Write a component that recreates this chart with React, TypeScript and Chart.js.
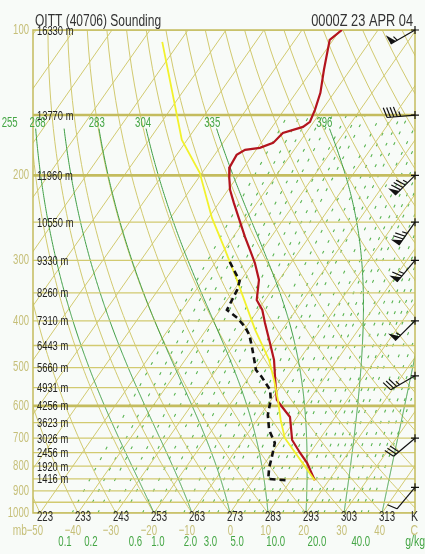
import React, { useEffect, useRef } from "react";
import { Chart, registerables } from "chart.js";

Chart.register(...registerables);

const titleLeft = "OITT (40706) Sounding";
const titleRight = "0000Z 23 APR 04";

// Temperature profile (hPa, °C)
const tempP = [100, 104.8, 120.9, 134.9, 146.3, 154.9, 158.7, 163.3, 171.3, 175.4, 177.1, 181.4, 192.0, 201.4, 214.3, 228.0, 247.3, 268.2, 285.3, 303.6, 329.2, 362.2, 379.8, 404.1, 444.6, 482.1, 530.4, 583.4, 603.2, 632.7, 706.0, 751.2, 787.9, 856];
const tempC = [-59.5, -60.9, -56.9, -53.6, -51.9, -51.0, -51.9, -56.1, -56.8, -59.4, -62.9, -64.2, -63.8, -62.1, -59.5, -56.1, -51.5, -46.9, -43.2, -39.5, -35.3, -32.2, -28.9, -25.8, -20.8, -16.6, -12.6, -8.5, -5.8, -1.9, 2.9, 7.4, 11.1, 16.3];

// Dewpoint profile (hPa, °C)
const dewP = [302.1, 330.8, 345.3, 379.8, 394.6, 411.9, 427.9, 453.1, 482.1, 505.7, 522.8, 556.2, 583.4, 626.7, 673.1, 716.2, 765.7, 806.9, 850.3, 856];
const dewC = [-46.3, -40.2, -39.2, -38.2, -34.0, -30.3, -27.7, -24.8, -21.8, -19.5, -16.7, -12.1, -10.1, -8.1, -5.0, -1.1, 0.7, 2.0, 3.8, 9.6];

// Parcel path (hPa, °C)
const parcelP = [856, 699.3, 641.8, 583.4, 530.4, 482.1, 417.8, 329.2, 281.3, 244.9, 197.6, 168.8, 105.8];
const parcelC = [16.3, 0.6, -3.8, -8.2, -12.9, -17.9, -27.1, -41.1, -50.6, -59.1, -70.6, -81.4, -104.6];

// Heights of levels
const heightP = [100, 150, 200, 250, 300, 350, 400, 450, 500, 550, 600, 650, 700, 750, 800, 850];
const heightM = [16330, 13770, 11960, 10550, 9330, 8260, 7310, 6443, 5660, 4931, 4256, 3623, 3026, 2456, 1920, 1416];

// Axis labels
const pressureTicks = [100, 200, 300, 400, 500, 600, 700, 800, 900, 1000];
const pressureLines = [100, 150, 200, 250, 300, 350, 400, 450, 500, 550, 600, 650, 700, 750, 800, 850, 900, 950, 1000];
const thickLines = [150, 200, 600];
const tempTicks = [-50, -40, -30, -20, -10, 0, 10, 20, 30, 40];
const kelvinTicks = [223, 233, 243, 253, 263, 273, 283, 293, 303, 313];
const mixLabels = [0.1, 0.2, 0.6, 1.0, 2.0, 3.0, 5.0, 10.0, 20.0, 40.0];
const mixLines = [0.1, 0.15, 0.2, 0.3, 0.4, 0.6, 0.8, 1, 1.5, 2, 2.5, 3, 4, 5, 6, 7, 8, 10, 12, 14, 16, 18, 20, 24, 28, 32, 36, 40];
const moistThetaW = [-20, -10, 0, 10, 20, 30, 40];
const moistLabels = ["255", "268", "283", "304", "335", "396", ""];

// Winds
const windP = [100, 150, 200, 250, 300, 400, 520, 700, 885];
const windDir = [240, 265, 225, 215, 220, 225, 240, 230, 220];
const windKt = [55, 45, 85, 75, 65, 55, 35, 30, 10];

const SKEW = 38.63;
const X_MIN = -51.84;
const X_MAX = 48.68;
const skewX = (t: number, p: number) => t + SKEW * Math.log(1000 / p);

const FONT = '"Liberation Sans", Arial, sans-serif';
const OLIVE = "#d2ca70";
const OLIVE_DARK = "#c4bc5e";
const OLIVE_TEXT = "#c6bf78";
const GREEN = "#3f9f45";
const GREEN_DASH = "#58b450";
const GREEN_TEXT = "#45a645";

const Rd = 287.04, CP = 1005.7, LV = 2.501e6, EPS = 0.622;
const es = (tc: number) => 6.112 * Math.exp((17.67 * tc) / (tc + 243.5));
const rsat = (p: number, tc: number) => { const e = es(tc); return (EPS * e) / (p - e); };
const dTdp = (p: number, tk: number) => {
  const r = rsat(p, tk - 273.15);
  return (Rd * tk + LV * r) / (CP + (LV * LV * r * EPS) / (Rd * tk * tk)) / p;
};
const moistPath = (tw: number, pTop: number) => {
  const out: [number, number][] = [];
  let tk = tw + 273.15, p = 1000;
  out.push([p, tk - 273.15]);
  while (p > pTop) {
    const dp = -2;
    const k1 = dTdp(p, tk);
    const k2 = dTdp(p + dp / 2, tk + (k1 * dp) / 2);
    tk += k2 * dp; p += dp;
    out.push([p, tk - 273.15]);
  }
  return out;
};
const tdFromW = (w: number, p: number) => {
  const q = w / 1000;
  const e = (q * p) / (EPS + q);
  const l = Math.log(e / 6.112);
  return (243.5 * l) / (17.67 - l);
};

function txt(ctx: CanvasRenderingContext2D, s: string, x: number, y: number, align: CanvasTextAlign, sx: number) {
  ctx.save();
  ctx.translate(x, y);
  ctx.scale(sx, 1);
  ctx.textAlign = align;
  ctx.fillText(s, 0, 0);
  ctx.restore();
}

function drawBarb(ctx: CanvasRenderingContext2D, x0: number, y0: number, dir: number, kt: number) {
  const L = 28, fl = 10, sp = 3.4;
  const rad = (dir * Math.PI) / 180;
  const ux = Math.sin(rad), uy = -Math.cos(rad);
  const px = -uy, py = ux;
  const tx = x0 + ux * L, ty = y0 + uy * L;
  ctx.strokeStyle = "#111"; ctx.fillStyle = "#111"; ctx.lineWidth = 1.2;
  ctx.beginPath(); ctx.moveTo(x0, y0); ctx.lineTo(tx, ty); ctx.stroke();
  ctx.beginPath(); ctx.moveTo(x0 - 4, y0); ctx.lineTo(x0 + 4, y0); ctx.moveTo(x0, y0 - 4); ctx.lineTo(x0, y0 + 4); ctx.stroke();
  let rem = Math.round(kt / 5) * 5;
  let pos = 0;
  while (rem >= 50) {
    const ax = tx - ux * pos, ay = ty - uy * pos;
    const bx = tx - ux * (pos + 6), by = ty - uy * (pos + 6);
    ctx.beginPath(); ctx.moveTo(ax, ay); ctx.lineTo(ax + px * fl, ay + py * fl); ctx.lineTo(bx, by); ctx.closePath(); ctx.fill();
    pos += 7.5; rem -= 50;
  }
  while (rem >= 10) {
    const ax = tx - ux * pos, ay = ty - uy * pos;
    ctx.beginPath(); ctx.moveTo(ax, ay); ctx.lineTo(ax + px * fl + ux * 3, ay + py * fl + uy * 3); ctx.stroke();
    pos += sp; rem -= 10;
  }
  if (rem >= 5) {
    if (pos === 0) pos = sp;
    const ax = tx - ux * pos, ay = ty - uy * pos;
    ctx.beginPath(); ctx.moveTo(ax, ay); ctx.lineTo(ax + px * fl * 0.5 + ux * 1.5, ay + py * fl * 0.5 + uy * 1.5); ctx.stroke();
  }
}

const skewPlugin = {
  id: "skewt",
  beforeDraw(chart: any) {
    const ctx = chart.ctx as CanvasRenderingContext2D;
    ctx.save();
    ctx.fillStyle = "#f8fbf8";
    ctx.fillRect(0, 0, chart.width, chart.height);
    ctx.restore();
  },
  beforeDatasetsDraw(chart: any) {
    const ctx = chart.ctx as CanvasRenderingContext2D;
    const xs = chart.scales.x, ys = chart.scales.y;
    const a = chart.chartArea;
    const PX = (t: number, p: number) => xs.getPixelForValue(skewX(t, p));
    const PY = (p: number) => ys.getPixelForValue(p);
    const poly = (pts: [number, number][]) => {
      ctx.beginPath();
      pts.forEach(([p, t], i) => { const x = PX(t, p), y = PY(p); if (i === 0) ctx.moveTo(x, y); else ctx.lineTo(x, y); });
      ctx.stroke();
    };
    ctx.save();
    ctx.beginPath(); ctx.rect(a.left, a.top, a.right - a.left, a.bottom - a.top); ctx.clip();

    // mixing ratio lines
    ctx.strokeStyle = GREEN_DASH; ctx.lineWidth = 1.1; ctx.setLineDash([3, 9]);
    mixLines.forEach((w) => {
      const pts: [number, number][] = [];
      for (let p = 1000; p >= 150; p -= 10) pts.push([p, tdFromW(w, p)]);
      poly(pts);
    });
    ctx.setLineDash([]);

    // isotherms
    ctx.strokeStyle = OLIVE; ctx.lineWidth = 1;
    for (let t = -160; t <= 50; t += 10) poly([[1000, t], [100, t]]);

    // dry adiabats
    for (let th = 223; th <= 483; th += 10) {
      const pts: [number, number][] = [];
      for (let p = 1000; p >= 100; p -= 10) pts.push([p, th * Math.pow(p / 1000, 0.286) - 273]);
      poly(pts);
    }

    // moist adiabats
    ctx.strokeStyle = GREEN; ctx.lineWidth = 1;
    moistThetaW.forEach((tw) => poly(moistPath(tw, 161)));

    // pressure lines
    pressureLines.forEach((p) => {
      const thick = thickLines.includes(p);
      ctx.strokeStyle = thick ? OLIVE_DARK : OLIVE;
      ctx.lineWidth = thick ? 2.6 : 1.3;
      const y = PY(p);
      ctx.beginPath(); ctx.moveTo(a.left, y); ctx.lineTo(a.right, y); ctx.stroke();
    });
    ctx.restore();

    // frame
    ctx.save();
    ctx.strokeStyle = OLIVE_DARK; ctx.lineWidth = 1.5;
    ctx.strokeRect(a.left, a.top, a.right - a.left, a.bottom - a.top);
    ctx.restore();
  },
  afterDatasetsDraw(chart: any) {
    const ctx = chart.ctx as CanvasRenderingContext2D;
    const xs = chart.scales.x, ys = chart.scales.y;
    const a = chart.chartArea;
    const PX = (t: number, p: number) => xs.getPixelForValue(skewX(t, p));
    const PY = (p: number) => ys.getPixelForValue(p);
    ctx.save();
    ctx.textBaseline = "middle";

    // titles
    ctx.fillStyle = "#333";
    ctx.font = `16px ${FONT}`;
    txt(ctx, titleLeft, 35, 22, "left", 0.75);
    txt(ctx, titleRight, 413, 22, "right", 0.8);

    // pressure labels
    ctx.font = `14px ${FONT}`;
    ctx.fillStyle = OLIVE_TEXT;
    pressureTicks.forEach((p) => txt(ctx, String(p), a.left - 4, PY(p), "right", 0.68));
    ctx.font = `15px ${FONT}`;
    txt(ctx, "mb", a.left - 6, a.bottom + 18, "right", 0.68);

    // height labels
    ctx.font = `13px ${FONT}`;
    ctx.fillStyle = "#222";
    heightP.forEach((p, i) => txt(ctx, `${heightM[i]} m`, a.left + 4, PY(p) + 1, "left", 0.72));

    // kelvin labels (dry adiabats at 1000 hPa)
    ctx.font = `15px ${FONT}`;
    ctx.fillStyle = "#2a2a2a";
    kelvinTicks.forEach((k) => txt(ctx, String(k), PX(k - 273, 1000) - 3, a.bottom + 4, "left", 0.64));
    txt(ctx, "K", a.right + 3, a.bottom + 4, "right", 0.7);

    // temperature labels
    ctx.fillStyle = OLIVE_TEXT;
    tempTicks.forEach((t) => txt(ctx, t < 0 ? `\u2212${-t}` : String(t), PX(t, 1000) + 3, a.bottom + 18, "right", 0.64));
    txt(ctx, "C", a.right + 3, a.bottom + 18, "right", 0.7);

    // mixing ratio labels
    ctx.fillStyle = GREEN_TEXT;
    mixLabels.forEach((w) => txt(ctx, w.toFixed(1), PX(tdFromW(w, 1000), 1000) - 7, a.bottom + 29, "center", 0.64));
    txt(ctx, "g/kg", chart.width, a.bottom + 29, "right", 0.7);

    // moist adiabat labels at 150 hPa
    ctx.fillStyle = GREEN_TEXT;
    moistThetaW.forEach((tw, i) => {
      if (!moistLabels[i]) return;
      const path = moistPath(tw, 150);
      const last = path[path.length - 1];
      let x = PX(last[1], last[0]);
      if (x < a.left + 40) x -= 25;
      txt(ctx, moistLabels[i], x, PY(150) + 8, "center", 0.64);
    });

    // wind barbs
    windP.forEach((p, i) => drawBarb(ctx, a.right, PY(p), windDir[i], windKt[i]));
    ctx.restore();
  },
};

export default function App() {
  const ref = useRef<HTMLCanvasElement | null>(null);
  useEffect(() => {
    if (!ref.current) return;
    const mk = (P: number[], T: number[]) => P.map((p, i) => ({ x: skewX(T[i], p), y: p }));
    const chart = new Chart(ref.current, {
      type: "scatter",
      data: {
        datasets: [
          {
            label: "Dewpoint", data: mk(dewP, dewC), showLine: true, pointRadius: 0,
            borderColor: "#111", borderWidth: 2.6, borderDash: [6, 4], order: 1,
          },
          {
            label: "Parcel", data: mk(parcelP, parcelC), showLine: true, pointRadius: 0,
            borderColor: "#f2f22c", borderWidth: 1.8, order: 2,
          },
          {
            label: "Temperature", data: mk(tempP, tempC), showLine: true, pointRadius: 0,
            borderColor: "#b3141e", borderWidth: 2.2, order: 3,
          },
        ],
      },
      options: {
        animation: false,
        responsive: false,
        maintainAspectRatio: false,
        devicePixelRatio: 1,
        layout: { padding: { left: 33, right: 10, top: 30, bottom: 41 } },
        plugins: { legend: { display: false }, tooltip: { enabled: false }, title: { display: false } },
        scales: {
          x: { type: "linear", min: X_MIN, max: X_MAX, display: false },
          y: { type: "logarithmic", min: 100, max: 1000, reverse: true, display: false },
        },
      },
      plugins: [skewPlugin],
    } as any);
    return () => chart.destroy();
  }, []);
  return (
    <div style={{ position: "absolute", left: 0, top: 0, width: 425, height: 554 }}>
      <canvas ref={ref} width={425} height={554} style={{ display: "block", width: 425, height: 554 }} />
    </div>
  );
}
